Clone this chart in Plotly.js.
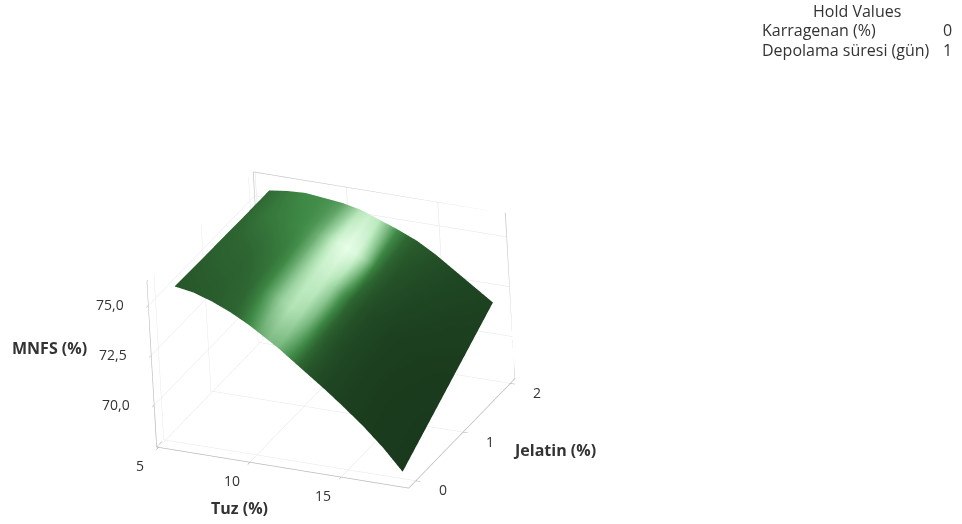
<!DOCTYPE html>
<html><head><meta charset="utf-8"><script src="https://cdn.plot.ly/plotly-3.0.1.min.js"></script>
<style>html,body{margin:0;padding:0;background:#fff}#c{width:962px;height:524px}</style></head><body><div id="c"></div>
<script>
const tuz=[6,7,8,9,9.5,10,10.5,11,11.5,12,12.5,13,13.5,14,15,16,17,18];
const jelatin=[0,0.5,1,1.5,2];
const mnfs0=[75.75,75.6,75.3,74.9,74.65,74.4,74.1,73.8,73.5,73.15,72.8,72.45,72.1,71.75,71.0,70.2,69.3,68.25];
const mnfs05=[75.72,75.65,75.44,75.12,74.92,74.72,74.47,74.22,73.95,73.64,73.34,73.03,72.72,72.4,71.7,70.94,70.1,69.15];
const mnfs1=[75.7,75.7,75.58,75.33,75.18,75.03,74.83,74.63,74.39,74.13,73.87,73.6,73.33,73.05,72.4,71.68,70.9,70.05];
const mnfs15=[75.68,75.75,75.72,75.54,75.44,75.34,75.19,75.04,74.84,74.62,74.4,74.18,73.94,73.7,73.1,72.42,71.7,70.95];
const mnfs2=[75.68,75.8,75.85,75.75,75.7,75.65,75.55,75.45,75.28,75.1,74.93,74.75,74.55,74.35,73.8,73.15,72.5,71.85];
const glow0=[.2,.22,.24,.28,.33,.42,.53,.6,.58,.45,.32,.2,.14,.1,.07,.05,.04,.03];
const glow05=[.24,.26,.27,.32,.4,.54,.7,.78,.74,.58,.38,.23,.15,.11,.07,.05,.04,.03];
const glow1=[.27,.3,.32,.36,.42,.55,.72,.84,.84,.7,.46,.28,.18,.13,.08,.06,.05,.04];
const glow15=[.3,.35,.38,.42,.46,.56,.74,.93,.99,.94,.7,.4,.26,.18,.12,.09,.07,.06];
const glow2=[.32,.37,.42,.44,.46,.5,.62,.78,.86,.8,.6,.42,.32,.24,.17,.12,.1,.08];
const xRange=[4.9,18.7], yRange=[-0.15,2.1], zRange=[67.9,76.2];
const xTicks=[5,10,15], yTicks=[0,1,2], zTicks=[70,72.5,75];
const xLabels=['5','10','15'], yLabels=['0','1','2'], zLabels=['70,0','72,5','75,0'];
const font={family:'"Open Sans",sans-serif',color:'#333',size:13};
const ax={showbackground:false,gridcolor:'#e4e4e4',linecolor:'#b5b5b5',showline:true,zeroline:false,ticks:'outside',tickcolor:'#999',ticklen:5,showticklabels:false,title:{text:''},showspikes:false};
const [x0,x1]=xRange,[y0,y1]=yRange,[z0,z1]=zRange;
const frame={type:'scatter3d',mode:'lines',hoverinfo:'skip',showlegend:false,line:{color:'#c4c4c4',width:1.5},
 x:[x0,x0,x1,x1,x0,null,x0,x0,x1,x1,null,x0,x0,null,x0,x0],
 y:[y0,y1,y1,y0,y0,null,y0,y1,y1,y1,null,y0,y0,null,y1,y1],
 z:[z0,z0,z0,z0,z0,null,z1,z1,z1,z0,null,z0,z1,null,z0,z1]};
const tickNote=(x,y,z,text,xshift,yshift)=>({x,y,z,text,xshift,yshift,showarrow:false,xanchor:'center',yanchor:'middle',font:{size:14,color:'#333'}});
const sceneNotes=[
 ...xTicks.map((v,i)=>tickNote(v,y0,z0,xLabels[i],-18,-18)),
 ...yTicks.map((v,i)=>tickNote(x1,v,z0,yLabels[i],27,-9)),
 ...zTicks.map((v,i)=>tickNote(x0,y0,v,zLabels[i],-38,1))];
Plotly.newPlot('c',[frame,{type:'surface',x:tuz,y:jelatin,z:[mnfs0,mnfs05,mnfs1,mnfs15,mnfs2],
 surfacecolor:[glow0,glow05,glow1,glow15,glow2],cmin:0,cmax:1,showscale:false,
 colorscale:[[0,'#17351a'],[0.3,'#2e6632'],[0.42,'#3f8a46'],[0.6,'#7dbb83'],[0.8,'#b9e8bc'],[1,'#eaffea']],
 lighting:{ambient:1,diffuse:0,specular:0,roughness:1,fresnel:0}}],
{width:962,height:524,margin:{l:0,r:0,t:0,b:0},paper_bgcolor:'#fff',font,
 scene:{domain:{x:[0,0.688],y:[0,0.74]},aspectmode:'manual',aspectratio:{x:1.433,y:1.31,z:0.959},
  camera:{eye:{x:0.573,y:-1.16,z:0.657},up:{x:0.047,y:0.023,z:1},center:{x:0,y:0,z:0},projection:{type:'orthographic'}},
  annotations:sceneNotes,
  xaxis:Object.assign({},ax,{range:xRange,tickvals:xTicks}),
  yaxis:Object.assign({},ax,{range:yRange,tickvals:yTicks}),
  zaxis:Object.assign({},ax,{range:zRange,tickvals:zTicks})},
 annotations:[
  {xref:'paper',yref:'paper',x:239/962,y:1-508/524,xanchor:'center',yanchor:'middle',text:'<b>Tuz (%)</b>',showarrow:false,font:{size:16}},
  {xref:'paper',yref:'paper',x:554/962,y:1-450/524,xanchor:'center',yanchor:'middle',text:'<b>Jelatin (%)</b>',showarrow:false,font:{size:16}},
  {xref:'paper',yref:'paper',x:49/962,y:1-348/524,xanchor:'center',yanchor:'middle',text:'<b>MNFS (%)</b>',showarrow:false,font:{size:16}},
  {xref:'paper',yref:'paper',x:857/962,y:1-11/524,xanchor:'center',yanchor:'middle',text:'Hold Values',showarrow:false,font:{size:16}},
  {xref:'paper',yref:'paper',x:760/962,xanchor:'left',y:1-30/524,yanchor:'middle',text:'Karragenan (%)',showarrow:false,font:{size:16}},
  {xref:'paper',yref:'paper',x:947/962,xanchor:'center',y:1-30/524,yanchor:'middle',text:'0',showarrow:false,font:{size:16}},
  {xref:'paper',yref:'paper',x:760/962,xanchor:'left',y:1-50/524,yanchor:'middle',text:'Depolama süresi (gün)',showarrow:false,font:{size:16}},
  {xref:'paper',yref:'paper',x:947/962,xanchor:'center',y:1-50/524,yanchor:'middle',text:'1',showarrow:false,font:{size:16}}
 ]},{displayModeBar:false});
</script></body></html>
